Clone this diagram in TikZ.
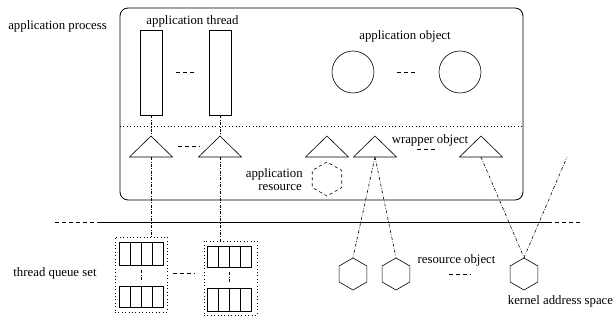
\documentclass[tikz,border=0pt]{standalone}
\usepackage{fontspec}
\setmainfont{Liberation Serif}
\usetikzlibrary{shapes.geometric}
\begin{document}
\begin{tikzpicture}[x=1pt,y=-1pt, line width=0.6pt,
  lbl/.style={font=\fontsize{12.8}{14}\selectfont, inner sep=0pt},
  thr/.style={draw, minimum width=22pt, minimum height=85pt, inner sep=0pt},
  obj/.style={draw, circle, minimum size=42pt, inner sep=0pt},
  hexa/.style={draw, regular polygon, regular polygon sides=6, shape border rotate=30, minimum size=32pt, inner sep=0pt},
  ddot/.style={dash pattern=on 3pt off 1.6pt on 0.6pt off 1.6pt},
  gap/.style={dash pattern=on 4pt off 3pt},
  dots/.style={dash pattern=on 0.8pt off 2.6pt, line width=0.8pt},
  qset/.style={draw, dots, inner sep=0pt},
  qrow/.style={draw, minimum width=44pt, minimum height=22pt, inner sep=0pt,
    path picture={\foreach \i in {1,2,3}
      \draw ([xshift=\i*11pt]path picture bounding box.north west) -- ([xshift=\i*11pt]path picture bounding box.south west);}},
  tri/.pic={\draw (0,0) -- (-21.5,21) -- (21.5,21) -- cycle;}
]
\useasboundingbox (0,0) rectangle (616,326);

% process box
\node[draw, rounded corners=8pt, line width=0.8pt, minimum width=403pt, minimum height=192pt, inner sep=0pt] (proc) at (321.5,104) {};
\coordinate (sepL) at (120,126);
\coordinate (sepR) at (523,126);
\draw[dots] (sepL) -- (sepR);

% labels
\node[lbl, anchor=base west] (lproc) at (8,29.5) {application process};
\node[lbl, anchor=base] (lthr) at (192.5,24.5) {application thread};
\node[lbl, anchor=base] (lobj) at (405,40) {application object};
\node[lbl, anchor=base] (lwrap) at (430,143.5) {wrapper object};
\node[lbl, anchor=base east] (lres1) at (303,178) {application};
\node[lbl, anchor=base east] (lres2) at (302,190) {resource};
\node[lbl, anchor=base] (lrobj) at (456.5,263) {resource object};
\node[lbl, anchor=base] (lkern) at (560.5,304) {kernel address space};
\node[lbl, anchor=base] (lqs) at (55,276) {thread queue set};

% threads
\node[thr] (th1) at (151,72.5) {};
\node[thr] (th2) at (220,72.5) {};
\draw[gap] (176,72) -- (195,72);

% objects
\node[obj] (o1) at (353,72) {};
\node[obj] (o2) at (460,72) {};
\draw[gap] (397,72) -- (417,72);

% triangles (wrapper objects)
\foreach \n/\x in {t1/151,t2/220,t3/327,t4/375,t5/481}{
  \pic at (\x,136) {tri};
  \coordinate (\n) at (\x,136);
  \coordinate (\n b) at (\x,157);
}
\draw[gap] (178,146) -- (200,146);
\draw[gap] (417,149) -- (438,149);

% application resource
\node[hexa, dashed, minimum size=34pt] (ar) at (327,179) {};

% kernel boundary
\coordinate (bl0) at (55,222);
\coordinate (bl1) at (100,222);
\coordinate (bl2) at (548,222);
\coordinate (bl3) at (583,222);
\draw[gap] (bl0) -- (bl1);
\draw[line width=0.8pt] (bl1) -- (bl2);
\draw[gap] (bl2) -- (bl3);

% resource objects
\node[hexa] (h1) at (353,274) {};
\node[hexa] (h2) at (396,274) {};
\node[hexa] (h3) at (524,274) {};
\draw[gap] (449,274) -- (471,274);
\coordinate (kfree) at (567,157);

% queue sets
\node[qset, minimum width=52pt, minimum height=75pt] (qs1) at (141,274.5) {};
\node[qrow, minimum height=23pt] (q1a) at (141,253.5) {};
\node[qrow, minimum height=21pt] (q1b) at (141,296.5) {};
\node[qset, minimum width=53pt, minimum height=74pt] (qs2) at (230.5,278) {};
\node[qrow, minimum height=21pt] (q2a) at (229,256.5) {};
\node[qrow, minimum height=23pt] (q2b) at (229,299.5) {};
\draw[ddot, shorten <=5pt, shorten >=5pt] (q1a.south) -- (q1b.north);
\draw[ddot, shorten <=5pt, shorten >=5pt] (q2a.south) -- (q2b.north);
\draw[gap] (173,273) -- (195,273);

% connectors
\draw[ddot] (th1.south) -- (t1);
\draw[ddot] (th2.south) -- (t2);
\draw[ddot] (t1b) -- (t1b |- qs1.north);
\draw[ddot] (t2b) -- (t2b |- qs2.north);
\draw[ddot] (t4b) -- (h1.north);
\draw[ddot] (t4b) -- (h2.north);
\draw[ddot] (t5b) -- (h3.north);
\draw[ddot] (h3.north) -- (kfree);
\end{tikzpicture}
\end{document}
